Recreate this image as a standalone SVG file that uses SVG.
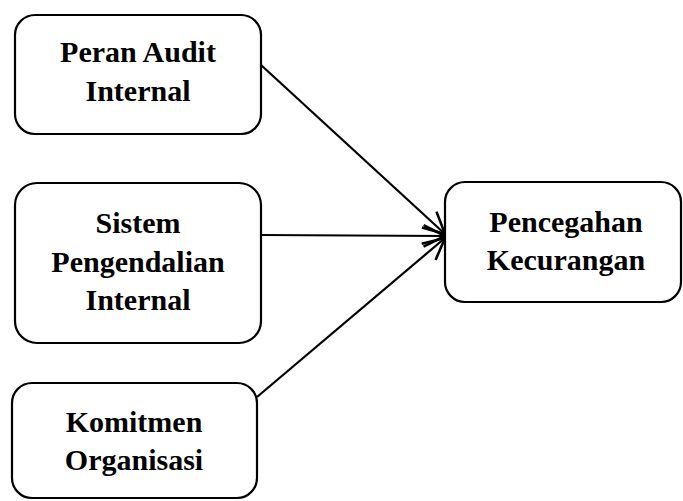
<svg xmlns="http://www.w3.org/2000/svg" width="683" height="501" viewBox="0 0 683 501">
<defs>
<style>
.box{fill:#fff;stroke:#000;stroke-width:2.2}
.t{font-family:"Liberation Serif","Times New Roman",serif;font-weight:bold;font-size:30px;text-anchor:middle;fill:#000}
.c{stroke:#000;stroke-width:2.2;fill:none}
</style>
<marker id="arr" markerUnits="userSpaceOnUse" markerWidth="30" markerHeight="30" viewBox="-24 -12 28 24" refX="0" refY="0" orient="auto">
<path d="M-20,-10 L0,0 L-20,10" fill="none" stroke="#000" stroke-width="2.4"/>
</marker>
</defs>
<rect width="683" height="501" fill="#fff"/>
<g id="connectors">
<line class="c" x1="261" y1="65" x2="445" y2="234" marker-end="url(#arr)"/>
<line class="c" x1="261" y1="235" x2="445" y2="236" marker-end="url(#arr)"/>
<line class="c" x1="257" y1="397" x2="445" y2="238" marker-end="url(#arr)"/>
</g>
<g id="peran">
<rect class="box" x="15" y="15" width="246" height="119" rx="20"/>
<text class="t" x="138" y="62">Peran Audit</text>
<text class="t" x="138" y="101">Internal</text>
</g>
<g id="sistem">
<rect class="box" x="15" y="183" width="246" height="160" rx="22"/>
<text class="t" x="138" y="233">Sistem</text>
<text class="t" x="138" y="272">Pengendalian</text>
<text class="t" x="138" y="310">Internal</text>
</g>
<g id="komitmen">
<rect class="box" x="12" y="383" width="245" height="115" rx="20"/>
<text class="t" x="134" y="432">Komitmen</text>
<text class="t" x="134" y="470">Organisasi</text>
</g>
<g id="pencegahan">
<rect class="box" x="445" y="182" width="236" height="120" rx="20"/>
<text class="t" x="566" y="232">Pencegahan</text>
<text class="t" x="566" y="270">Kecurangan</text>
</g>
</svg>
